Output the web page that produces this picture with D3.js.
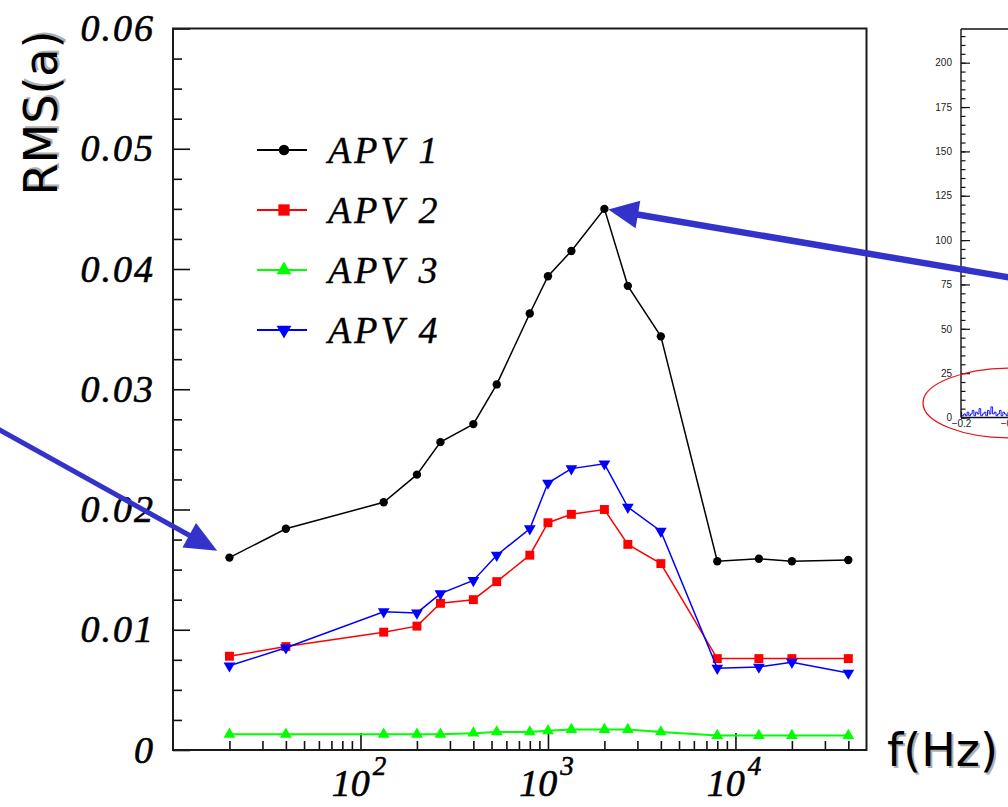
<!DOCTYPE html>
<html>
<head>
<meta charset="utf-8">
<script src="https://cdn.jsdelivr.net/npm/d3@7/dist/d3.min.js"></script>
<style>
  html, body { margin: 0; padding: 0; background: #fff; }
  svg { display: block; }
</style>
</head>
<body>
<svg id="chart" width="1008" height="807"></svg>
<script>
// Frequencies (Hz) at which the RMS was measured
const freqs = [20, 40, 133, 200, 267, 400, 533, 800, 1000, 1333, 2000, 2667, 4000, 8000, 13333, 20000, 40000];

// RMS(a) for each APV chip
const apv1 = [0.0160, 0.0184, 0.0206, 0.0229, 0.0256, 0.0271, 0.0304, 0.0363, 0.0394, 0.0415, 0.0450, 0.0386, 0.0344, 0.0157, 0.0159, 0.0157, 0.0158];
const apv2 = [0.0078, 0.0086, 0.0098, 0.0103, 0.0122, 0.0125, 0.0140, 0.0162, 0.0189, 0.0196, 0.0200, 0.0171, 0.0155, 0.0076, 0.0076, 0.0076, 0.0076];
const apv3 = [0.0013, 0.0013, 0.0013, 0.0013, 0.0013, 0.0014, 0.0015, 0.0015, 0.0016, 0.0017, 0.0017, 0.0017, 0.0015, 0.0012, 0.0012, 0.0012, 0.0012];
const apv4 = [0.0070, 0.0085, 0.0115, 0.0114, 0.0130, 0.0141, 0.0162, 0.0184, 0.0222, 0.0234, 0.0238, 0.0202, 0.0182, 0.0068, 0.0069, 0.0073, 0.0064];

const seriesNames = ["APV 1", "APV 2", "APV 3", "APV 4"];
const seriesColors = ["#000000", "#ff0000", "#00ff00", "#0000ff"];
const seriesMarkers = ["circle", "square", "triangleUp", "triangleDown"];

// Axis ticks
const yMajorTicks = [0, 0.01, 0.02, 0.03, 0.04, 0.05, 0.06];
const xDecades = [100, 1000, 10000];
const xDecadeExp = ["2", "3", "4"];

// Small histogram panel on the right
const histTicks = [0, 25, 50, 75, 100, 125, 150, 175, 200];
const histXTicks = [-0.2, -0.1];
const histCounts = [1, 2, 1, 3, 1, 2, 4, 1, 3, 2, 5, 1, 2, 3, 1, 4, 2, 6, 2, 3, 1, 2, 4, 1, 3, 2, 1, 3];

const svg = d3.select("#chart");

// ---------- main frame ----------
const L = 173, R = 866.5, T = 28.5, B = 750;
const x = d3.scaleLog().domain([10, 50000]).range([L, R]);
const y = d3.scaleLinear().domain([0, 0.06]).range([B, T]);

const serif = "'Liberation Serif', 'DejaVu Serif', serif";
const sans = "'DejaVu Sans', Verdana, sans-serif";

// minor x ticks (2..9 x 10^n)
const xMinor = [];
[10, 100, 1000, 10000].forEach(d => { for (let k = 2; k <= 9; k++) { const v = d * k; if (v < 50000) xMinor.push(v); } });
const yMinor = d3.range(0, 0.0601, 0.0025).filter(v => Math.abs(v * 100 - Math.round(v * 100)) > 1e-6);

const axStyle = g => {
  g.select(".domain").remove();
  g.selectAll("line").attr("stroke", "#111").attr("stroke-width", 1.6);
};

svg.append("g").attr("transform", `translate(0,${B})`)
  .call(d3.axisBottom(x).tickValues(xMinor).tickSize(-9).tickFormat(""))
  .call(axStyle);
const xMaj = svg.append("g").attr("transform", `translate(0,${B})`)
  .call(d3.axisBottom(x).tickValues(xDecades).tickSize(-17).tickFormat("").tickPadding(0))
  .call(axStyle);
// 10^n labels with superscript exponent
xMaj.selectAll(".tick").each(function (d, i) {
  const t = d3.select(this).append("text")
    .attr("x", -2).attr("y", 46)
    .attr("fill", "#000").attr("text-anchor", "middle")
    .attr("stroke", "#000").attr("stroke-width", 0.6)
    .style("font-family", serif).style("font-style", "italic").style("font-size", "38px");
  t.append("tspan").text("10");
  t.append("tspan").attr("dy", -21).attr("dx", 3).style("font-size", "27px").text(xDecadeExp[i]);
});

svg.append("g").attr("transform", `translate(${L},0)`)
  .call(d3.axisLeft(y).tickValues(yMinor).tickSize(-9).tickFormat(""))
  .call(axStyle);
svg.append("g").attr("transform", `translate(${L},0)`)
  .call(d3.axisLeft(y).tickValues(yMajorTicks).tickSize(-17).tickPadding(18).tickFormat(d => d === 0 ? "0" : d3.format(".2f")(d)))
  .call(axStyle)
  .call(g => g.selectAll("text")
    .attr("fill", "#000").attr("stroke", "#000").attr("stroke-width", 0.6)
    .style("letter-spacing", "2px")
    .style("font-family", serif).style("font-style", "italic").style("font-size", "38px"));

// frame
svg.append("rect").attr("x", L).attr("y", T).attr("width", R - L).attr("height", B - T)
  .attr("fill", "none").attr("stroke", "#1a1a1a").attr("stroke-width", 2);

// ---------- series ----------
const allSeries = [apv1, apv2, apv3, apv4];
const markerPath = (type, size) => {
  const sym = {
    circle: d3.symbolCircle, square: d3.symbolSquare,
    triangleUp: d3.symbolTriangle, triangleDown: d3.symbolTriangle
  }[type];
  return d3.symbol().type(sym).size(size)();
};
const markerSize = { circle: 55, square: 80, triangleUp: 60, triangleDown: 60 };

const line = d3.line().x((d, i) => x(freqs[i])).y(d => y(d));
allSeries.forEach((vals, s) => {
  svg.append("path").datum(vals).attr("d", line)
    .attr("fill", "none").attr("stroke", seriesColors[s]).attr("stroke-width", s === 2 ? 2 : 1.5);
  svg.append("g").selectAll("path").data(vals).join("path")
    .attr("d", markerPath(seriesMarkers[s], markerSize[seriesMarkers[s]]))
    .attr("transform", (d, i) => `translate(${x(freqs[i])},${y(d)})` + (seriesMarkers[s] === "triangleDown" ? " rotate(180)" : ""))
    .attr("fill", seriesColors[s]);
});

// ---------- legend ----------
const legend = svg.append("g");
seriesNames.forEach((name, s) => {
  const cy = 150 + s * 60;
  legend.append("line").attr("x1", 257).attr("x2", 307).attr("y1", cy).attr("y2", cy)
    .attr("stroke", seriesColors[s]).attr("stroke-width", 2);
  legend.append("path").attr("d", markerPath(seriesMarkers[s], markerSize[seriesMarkers[s]] * 1.6))
    .attr("transform", `translate(284,${cy})` + (seriesMarkers[s] === "triangleDown" ? " rotate(180)" : ""))
    .attr("fill", seriesColors[s]);
  legend.append("text").attr("x", 328).attr("y", cy + 13).text(name)
    .attr("fill", "#000").attr("stroke", "#000").attr("stroke-width", 0.4)
    .style("letter-spacing", "3px")
    .style("font-family", serif).style("font-style", "italic").style("font-size", "38px");
});

// ---------- axis titles ----------
const shadowText = (sel, txt) => {
  sel.append("text").text(txt).attr("fill", "#b0b0b0").attr("transform", "translate(2,2)");
  sel.append("text").text(txt).attr("fill", "#000");
};
const yt = svg.append("g").attr("transform", "translate(57,113) rotate(-90)")
  .style("font-family", sans).style("font-size", "46px").attr("text-anchor", "middle");
shadowText(yt, "RMS(a)");
const xt = svg.append("g").attr("transform", "translate(887,766)")
  .style("font-family", sans).style("font-size", "46px");
shadowText(xt, "f(Hz)");

// ---------- histogram panel ----------
const HL = 961, HB = 417.5, HT = 29;
const hy = d3.scaleLinear().domain([0, 200]).range([HB, 62.7]);
const hx = d3.scaleLinear().domain([-0.2, -0.1]).range([HL, HL + 49]);
const hsvg = svg.append("g");
hsvg.append("line").attr("x1", HL).attr("x2", 1010).attr("y1", HT).attr("y2", HT).attr("stroke", "#111").attr("stroke-width", 1.4);
hsvg.append("line").attr("x1", HL).attr("x2", HL).attr("y1", HT).attr("y2", HB).attr("stroke", "#111").attr("stroke-width", 1.4);
hsvg.append("line").attr("x1", HL).attr("x2", 1010).attr("y1", HB).attr("y2", HB).attr("stroke", "#111").attr("stroke-width", 1.4);
hsvg.append("g").attr("transform", `translate(${HL},0)`)
  .call(d3.axisLeft(hy).tickValues(d3.range(0, 216, 5)).tickSize(-4.5).tickFormat(""))
  .call(axStyle).call(g => g.selectAll("line").attr("stroke-width", 1.2));
hsvg.append("g").attr("transform", `translate(${HL},0)`)
  .call(d3.axisLeft(hy).tickValues(histTicks).tickSize(-9).tickPadding(9))
  .call(axStyle).call(g => g.selectAll("line").attr("stroke-width", 1.2))
  .call(g => g.selectAll("text").attr("fill", "#222").style("font-family", "'Liberation Sans', Arial, sans-serif").style("font-size", "10px"));
hsvg.append("g").attr("transform", `translate(0,${HB})`)
  .call(d3.axisBottom(hx).tickValues(histXTicks).tickSize(-6).tickPadding(2).tickFormat(d => d3.format(".1f")(d).replace("-", "\u2212")))
  .call(axStyle).call(g => g.selectAll("line").attr("stroke-width", 1.2))
  .call(g => g.selectAll("text").attr("fill", "#222").style("font-family", "'Liberation Sans', Arial, sans-serif").style("font-size", "10px"));
// histogram counts
const binW = 1.7;
const hline = d3.line().curve(d3.curveStepAfter)
  .x((d, i) => HL + 1 + i * binW).y(d => hy(d));
hsvg.append("path").datum(histCounts).attr("d", hline).attr("fill", "none").attr("stroke", "#0000ff").attr("stroke-width", 0.9);
// highlight ellipse around the baseline region
hsvg.append("ellipse").attr("cx", 1012).attr("cy", 403).attr("rx", 89).attr("ry", 35)
  .attr("fill", "none").attr("stroke", "#e8141c").attr("stroke-width", 1.3);

// ---------- callout arrows ----------
const callouts = [
  { series: 0, index: 0, tail: [-4, 428], gap: 14, width: 5, headLen: 32, headHalf: 14 },
  { series: 0, index: 10, tail: [1012, 278], gap: 4, width: 6.5, headLen: 30, headHalf: 14 }
];
const arrowColor = "#3333cc";
callouts.forEach(c => {
  const px = x(freqs[c.index]), py = y(allSeries[c.series][c.index]);
  const dx = px - c.tail[0], dy = py - c.tail[1];
  const len = Math.hypot(dx, dy), ux = dx / len, uy = dy / len;
  const tipX = px - ux * c.gap, tipY = py - uy * c.gap;
  const baseX = tipX - ux * c.headLen, baseY = tipY - uy * c.headLen;
  svg.append("line").attr("x1", c.tail[0]).attr("y1", c.tail[1]).attr("x2", baseX + ux * 2).attr("y2", baseY + uy * 2)
    .attr("stroke", arrowColor).attr("stroke-width", c.width);
  svg.append("path")
    .attr("d", `M${tipX},${tipY}L${baseX - uy * c.headHalf},${baseY + ux * c.headHalf}L${baseX + uy * c.headHalf},${baseY - ux * c.headHalf}Z`)
    .attr("fill", arrowColor);
});
</script>
</body>
</html>
